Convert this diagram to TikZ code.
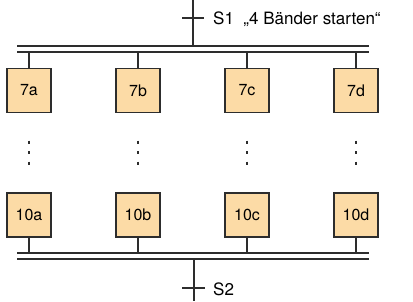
\documentclass[tikz,border=0pt]{standalone}
\usepackage{fontspec}
\setmainfont{TeX Gyre Heros}
\definecolor{boxfill}{RGB}{252,219,166}
\definecolor{linegray}{RGB}{45,45,45}
\begin{document}
\begin{tikzpicture}[x=1pt,y=-1pt,
  stepbox/.style={draw=linegray,line width=1.4pt,fill=boxfill,minimum width=44pt,minimum height=44pt,inner sep=0pt,font=\fontsize{16}{18}\selectfont},
  wire/.style={draw=linegray,line width=1.3pt},
  lbl/.style={anchor=west,inner sep=0pt,font=\fontsize{17}{19}\selectfont},
  vdots/.style={draw=linegray,line width=1.6pt,dash pattern=on 3pt off 7.5pt}]
\useasboundingbox (0,0) rectangle (413,301);
% top
\coordinate (topin) at (193,0);
\coordinate (topbar) at (193,46);
\draw[wire] (topin) -- (topbar);
\coordinate (t1l) at (182,18); \coordinate (t1r) at (204,18);
\draw[wire] (t1l) -- (t1r);
\node[lbl] (s1) at (213,19) {S1\ \ „4 Bänder starten“};
\coordinate (b1l) at (17,46); \coordinate (b1r) at (369,46);
\coordinate (b2l) at (17,52); \coordinate (b2r) at (369,52);
\draw[wire] (b1l) -- (b1r);
\draw[wire] (b2l) -- (b2r);
% bottom bars
\coordinate (c1l) at (17,253); \coordinate (c1r) at (369,253);
\coordinate (c2l) at (17,259); \coordinate (c2r) at (369,259);
\draw[wire] (c1l) -- (c1r);
\draw[wire] (c2l) -- (c2r);
\coordinate (botbar) at (194,259);
\coordinate (botout) at (194,301);
\draw[wire] (botbar) -- (botout);
\coordinate (t2l) at (182,288); \coordinate (t2r) at (205,288);
\draw[wire] (t2l) -- (t2r);
\node[lbl] (s2) at (213,289) {S2};
% columns
\foreach \n/\x in {a/29,b/138,c/247,d/356}{
  \node[stepbox] (s7\n) at (\x,90.5) {7\n};
  \node[stepbox] (s10\n) at (\x,215) {10\n};
  \coordinate (u\n) at (\x,52);
  \coordinate (l\n) at (\x,253);
  \draw[wire] (u\n) -- (s7\n.north);
  \draw[wire] (s10\n.south) -- (l\n);
  \coordinate (d1\n) at (\x,140.5);
  \coordinate (d2\n) at (\x,165);
  \draw[vdots] (d1\n) -- (d2\n);
}
\end{tikzpicture}
\end{document}
